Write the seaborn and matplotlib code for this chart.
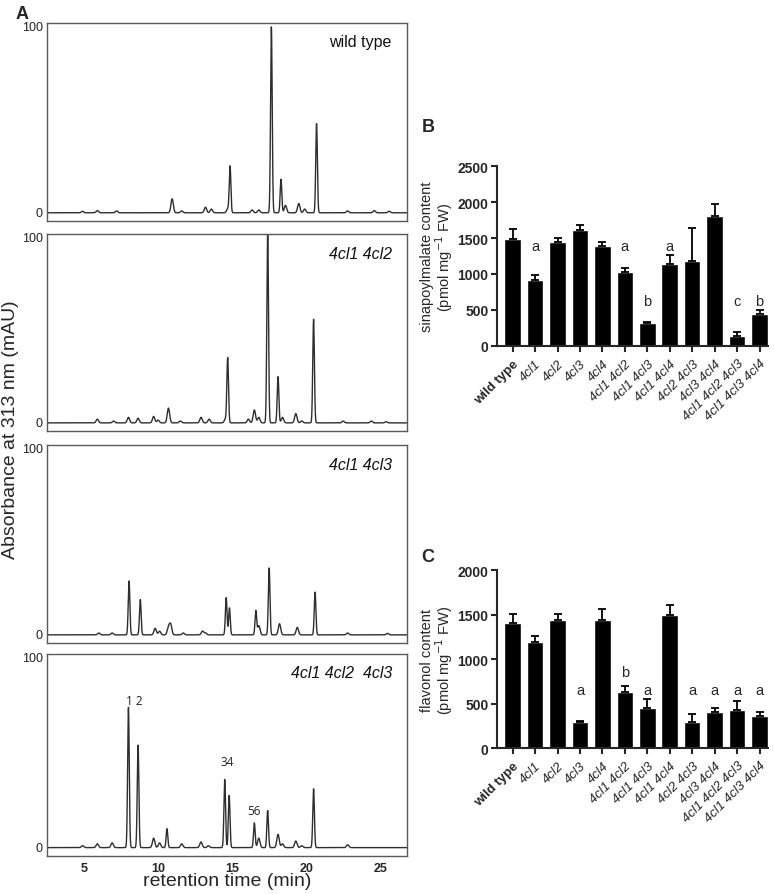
import numpy as np
import pandas as pd
import matplotlib
matplotlib.use("Agg")
import matplotlib.pyplot as plt
import seaborn as sns

sns.set_style("ticks")
plt.rcParams["font.family"] = ["Liberation Sans", "DejaVu Sans"]

# ---------- panel A: HPLC peak tables (retention time in min, height in mAU) ----------
wt_rt = [4.9, 5.9, 7.2, 10.95, 11.6, 13.2, 13.6, 14.7, 14.86, 16.35, 16.8, 17.65, 18.3, 18.6, 19.5, 19.9, 20.7, 22.8, 24.6, 25.6]
wt_h = [0.8, 1.2, 1.0, 7.5, 1.0, 3.0, 2.0, 2.0, 25, 1.5, 1.5, 100, 18, 4, 5, 2, 48, 1.0, 1.2, 0.8]

dbl12_rt = [5.9, 7.0, 8.0, 8.65, 9.7, 10.0, 10.7, 11.5, 12.9, 13.45, 14.55, 14.7, 16.1, 16.5, 16.8, 17.4, 18.1, 18.4, 19.3, 19.7, 20.5, 22.5, 24.4, 25.4]
dbl12_h = [2, 1, 3, 2.5, 3.5, 1.5, 8, 1, 3, 2, 2, 35, 2, 7, 3, 105, 25, 3, 5, 1, 56, 1, 1, 0.6]

dbl13_rt = [6.0, 6.9, 8.04, 8.8, 9.8, 10.1, 10.7, 10.85, 11.7, 13.0, 13.2, 14.6, 14.82, 16.6, 16.8, 17.5, 18.2, 19.4, 20.6, 22.8, 25.5]
dbl13_h = [1, 1, 29, 19, 3.5, 2, 4, 5.5, 1, 2, 1, 20, 14.5, 13, 5, 36, 6, 4, 23, 1, 0.8]

tri_rt = [4.9, 5.9, 6.9, 8.0, 8.65, 9.7, 10.1, 10.6, 11.6, 12.9, 13.4, 14.5, 14.8, 16.5, 16.8, 17.4, 18.1, 18.4, 19.3, 19.7, 20.5, 22.8]
tri_h = [1, 2, 2.5, 74, 54, 5, 2.5, 10, 2, 3, 1, 36, 27.5, 13, 5, 19.5, 7, 2, 3.5, 1, 31, 1.5]

chrom_names = ["wild type", "4cl1 4cl2", "4cl1 4cl3", "4cl1 4cl2  4cl3"]
chrom_peaks = [(wt_rt, wt_h), (dbl12_rt, dbl12_h), (dbl13_rt, dbl13_h), (tri_rt, tri_h)]

# ---------- panels B and C ----------
genotypes = ["wild type", "4cl1", "4cl2", "4cl3", "4cl4", "4cl1 4cl2", "4cl1 4cl3",
             "4cl1 4cl4", "4cl2 4cl3", "4cl3 4cl4", "4cl1 4cl2 4cl3", "4cl1 4cl3 4cl4"]
sinapoyl = [1480, 910, 1450, 1605, 1395, 1030, 320, 1135, 1180, 1805, 145, 440]
sinapoyl_err = [150, 80, 50, 75, 50, 50, 20, 135, 455, 165, 50, 65]
sinapoyl_sig = ["", "a", "", "", "", "a", "b", "a", "", "", "c", "b"]

flavonol = [1400, 1195, 1435, 290, 1440, 625, 455, 1495, 290, 410, 425, 355]
flavonol_err = [110, 60, 70, 10, 120, 75, 100, 110, 90, 40, 105, 45]
flavonol_sig = ["", "", "", "a", "", "b", "a", "", "a", "a", "a", "a"]

fig = plt.figure(figsize=(7.74, 8.95), dpi=100)

# ========== A: chromatograms ==========
chrom_pos = [
    [0.0607, 0.752, 0.465, 0.2212],
    [0.0607, 0.5173, 0.465, 0.2201],
    [0.0607, 0.2804, 0.465, 0.2212],
    [0.0607, 0.0425, 0.465, 0.2257],
]
t = np.linspace(2.5, 27, 4000)
axes_a = []
for i, (name, (rts, hs)) in enumerate(zip(chrom_names, chrom_peaks)):
    ax = fig.add_axes(chrom_pos[i])
    sig = np.zeros_like(t)
    for rt, h in zip(rts, hs):
        w = 0.055 if h > 9 else 0.08
        sig += h * np.exp(-0.5 * ((t - rt) / w) ** 2)
    df = pd.DataFrame({"time": t, "signal": sig - 0.6})
    sns.lineplot(data=df, x="time", y="signal", ax=ax, color="#2e2e2e", lw=1.0)
    ax.set_xlim(2.5, 26.8)
    ax.set_ylim(-5, 101.5)
    ax.set_yticks([0, 100])
    ax.set_yticklabels(["0", "100"], fontsize=9, color="#222222")
    ax.tick_params(axis="both", length=0, pad=3)
    ax.set_xlabel("")
    ax.set_ylabel("")
    for s in ax.spines.values():
        s.set_color("#5a5a5a")
        s.set_linewidth(1.0)
    h_px = chrom_pos[i][3] * 895
    ax.text(0.958, 1 - 19 / h_px, name, transform=ax.transAxes, ha="right", va="center",
            fontsize=11.5, style="normal" if i == 0 else "italic", color="#111111")
    if i < 3:
        ax.set_xticks([])
    else:
        ax.set_xticks([5, 10, 15, 20, 25])
        ax.set_xticklabels(["5", "10", "15", "20", "25"], fontsize=9, fontweight="bold")
        ax.tick_params(axis="x", pad=4)
        ax.set_xlabel("retention time (min)", fontsize=14, labelpad=-1)
    axes_a.append(ax)

# peak numbers in the triple mutant
ax4 = axes_a[3]
for lbl, x, y in [("1 2", 8.42, 77), ("34", 14.66, 45), ("56", 16.5, 19)]:
    ax4.text(x, y, lbl, ha="center", va="center", fontsize=8.5, family="Open Sans", color="#222222")

fig.text(0.014, 0.52, "Absorbance at 313 nm (mAU)", rotation=90, ha="center", va="center", fontsize=14)
fig.text(0.028, 0.984, "A", fontsize=13, fontweight="bold", ha="center", va="center")


# ========== B and C: bar charts ==========
def bar_panel(pos, values, errs, sig, ylim, yticks, ylabel, letter_y):
    ax = fig.add_axes(pos)
    df = pd.DataFrame({"genotype": genotypes, "value": values})
    sns.barplot(data=df, x="genotype", y="value", color="black", width=0.74, ax=ax,
                saturation=1, errorbar=None)
    ax.errorbar(np.arange(len(values)), values, yerr=[np.zeros(len(errs)), errs],
                fmt="none", ecolor="black", elinewidth=1.3, capsize=3, capthick=1.3)
    ax.set_xlim(-0.7, 11.37)
    ax.set_ylim(*ylim)
    ax.set_yticks(yticks)
    ax.set_yticklabels([str(v) for v in yticks], fontsize=10, fontweight="bold")
    sns.despine(ax=ax)
    for s in ["left", "bottom"]:
        ax.spines[s].set_linewidth(1.5)
    ax.tick_params(axis="both", width=1.5, length=4, pad=2)
    ax.set_xticks(np.arange(len(genotypes)))
    ax.set_xticklabels(genotypes, rotation=45, ha="right", rotation_mode="anchor", fontsize=9.5)
    ax.tick_params(axis="x", pad=4)
    for k, tl in enumerate(ax.get_xticklabels()):
        if k == 0:
            tl.set_fontweight("bold")
        else:
            tl.set_fontstyle("italic")
    ax.set_xlabel("")
    ax.set_ylabel(ylabel, fontsize=10.5, labelpad=2, linespacing=0.95)
    for k, s in enumerate(sig):
        if s:
            ax.text(k, letter_y[s], s, ha="center", va="center", fontsize=10.5)
    return ax


axB = bar_panel([0.642, 0.6123, 0.350, 0.2011], sinapoyl, sinapoyl_err, sinapoyl_sig,
                (0, 2500), [0, 500, 1000, 1500, 2000, 2500],
                "sinapoylmalate content\n(pmol mg$^{-1}$ FW)", {"a": 1390, "b": 622, "c": 622})
axC = bar_panel([0.642, 0.1631, 0.350, 0.1989], flavonol, flavonol_err, flavonol_sig,
                (0, 2000), [0, 500, 1000, 1500, 2000],
                "flavonol content\n(pmol mg$^{-1}$ FW)", {"a": 655, "b": 850})

fig.text(0.553, 0.858, "B", fontsize=13, fontweight="bold", ha="center", va="center")
fig.text(0.553, 0.377, "C", fontsize=13, fontweight="bold", ha="center", va="center")

fig.savefig("out.png", dpi=100)
